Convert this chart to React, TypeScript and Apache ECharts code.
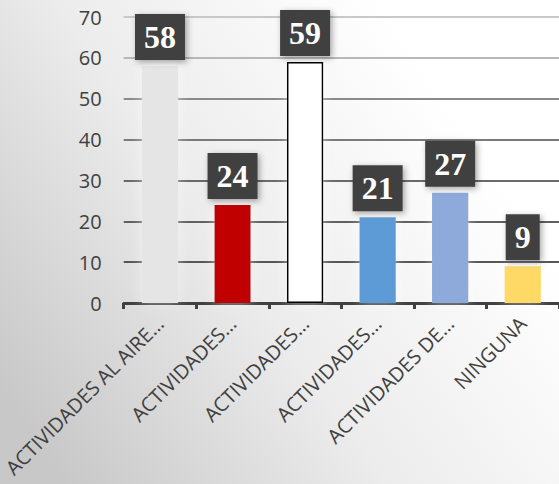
import React, { useEffect, useRef } from "react";
import * as echarts from "echarts";

const categories = [
  "ACTIVIDADES AL AIRE…",
  "ACTIVIDADES…",
  "ACTIVIDADES…",
  "ACTIVIDADES…",
  "ACTIVIDADES DE…",
  "NINGUNA",
];
const values = [58, 24, 59, 21, 27, 9];
const barColors = ["#e5e5e5", "#c00000", "#ffffff", "#5b9bd5", "#8eaadb", "#ffd966"];
const yTicks = { min: 0, max: 70, interval: 10 };

export default function App() {
  const ref = useRef<HTMLDivElement>(null);
  useEffect(() => {
    if (!ref.current) return;
    const chart = echarts.init(ref.current, null, { renderer: "svg" });
    chart.setOption({
      animation: false,
      backgroundColor: new echarts.graphic.LinearGradient(0, 0.8, 0.85, 0.3, [
        { offset: 0, color: "#c8c8c8" },
        { offset: 0.5, color: "#ececec" },
        { offset: 1, color: "#ffffff" },
      ]),
      grid: { left: 123, right: -4, top: 17, bottom: 181, containLabel: false },
      xAxis: {
        type: "category",
        data: categories,
        axisLine: { show: true, lineStyle: { color: "#404040", width: 3 } },
        axisTick: { show: true, length: 6, lineStyle: { color: "#404040", width: 3 } },
        axisLabel: {
          rotate: 45,
          interval: 0,
          color: "#404040",
          fontFamily: "Open Sans",
          fontSize: 20,
          margin: 17,
        },
      },
      yAxis: {
        type: "value",
        min: yTicks.min,
        max: yTicks.max,
        interval: yTicks.interval,
        axisLine: { show: false },
        axisTick: { show: false },
        axisLabel: {
          color: "#404040",
          fontFamily: "Open Sans",
          fontSize: 20,
          margin: 22,
        },
        splitLine: {
          lineStyle: {
            width: 2,
            color: ["#505050", "#565656", "#606060", "#6a6a6a", "#7a7a7a", "#8a8a8a", "#b8b8b8", "#c8c8c8"],
          },
        },
      },
      series: [
        {
          type: "bar",
          barWidth: "50%",
          data: values.map((v, i) => ({
            value: v,
            itemStyle: {
              color: barColors[i],
              borderColor: i === 2 ? "#000000" : barColors[i],
              borderWidth: i === 2 ? 1.5 : 0,
              shadowBlur: 12,
              shadowColor: "rgba(255,255,255,0.5)",
            },
          })),
          label: {
            show: true,
            position: "top",
            distance: 6,
            color: "#ffffff",
            fontFamily: "Liberation Serif",
            fontWeight: "bold",
            fontSize: 32,
            lineHeight: 32,
            backgroundColor: "#404040",
            padding: [7, 9, 7, 9],
            shadowBlur: 6,
            shadowOffsetX: 2,
            shadowOffsetY: 2,
            shadowColor: "rgba(0,0,0,0.35)",
          },
        },
      ],
    });
    return () => chart.dispose();
  }, []);
  return <div ref={ref} style={{ width: 559, height: 484, position: "absolute", left: 0, top: 0 }} />;
}
